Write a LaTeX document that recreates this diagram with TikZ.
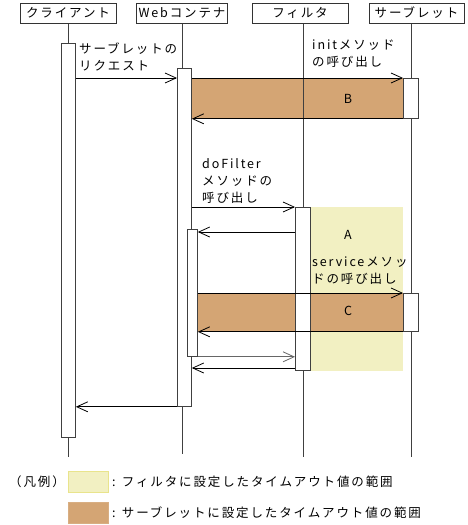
\documentclass[tikz,border=0pt]{standalone}
\usepackage{fontspec}
\setmainfont{Noto Sans CJK JP}[LetterSpace=15]
\usetikzlibrary{arrows.meta}
\definecolor{svbrown}{HTML}{D4A574}
\definecolor{flyellow}{HTML}{F2F0C2}
\newcommand\fsz{\fontsize{12.5}{17}\selectfont}
\pgfdeclarelayer{bg}
\pgfsetlayers{bg,main}
\begin{document}
\begin{tikzpicture}[x=1pt,y=-1pt,
  every node/.style={font=\fsz},
  life/.style={draw=black!75, line width=0.8pt},
  act/.style={draw=black!75, fill=white, line width=0.8pt, anchor=north west, inner sep=0pt},
  hdr/.style={draw=black!80, line width=0.8pt, inner sep=0pt, minimum height=20pt},
  msg/.style={draw=black, line width=0.8pt, -{Straight Barb[length=11pt,width=10pt]}},
  lbl/.style={anchor=north west, inner sep=0pt, align=left},
]
\useasboundingbox (0,0) rectangle (467,525);
% headers
\node[hdr, minimum width=96pt] (hc) at (68,13) {クライアント};
\node[hdr, minimum width=91pt] (hw) at (182,13) {Webコンテナ};
\node[hdr, minimum width=96pt] (hf) at (300,13) {フィルタ};
\node[hdr, minimum width=95pt] (hs) at (416.5,13) {サーブレット};
% lifeline ends
\coordinate (cend) at (68,457);
\coordinate (wend) at (182,454);
\coordinate (ftop) at (303,23);
\coordinate (fend) at (303,457);
\coordinate (stop) at (411,23);
\coordinate (send) at (411,457);
% activations
\node[act, minimum width=14pt, minimum height=394pt] (ca) at (61,43) {};
\node[act, minimum width=14pt, minimum height=338pt] (wa) at (177,68) {};
\node[act, minimum width=10pt, minimum height=127pt] (wn) at (187,229) {};
\node[act, minimum width=15pt, minimum height=163pt] (fa) at (295,207) {};
\node[act, minimum width=15pt, minimum height=40pt] (s1) at (403,78) {};
\node[act, minimum width=15pt, minimum height=38pt] (s2) at (403,293) {};
\begin{pgfonlayer}{bg}
  \fill[flyellow] (fa.north east) rectangle (s2.west |- fa.south);
  \fill[svbrown] (wa.east |- s1.north) rectangle (s1.south west);
  \fill[svbrown] (wn.east |- s2.north) rectangle (s2.south west);
  \draw[life] (hc.south) -- (cend);
  \draw[life] (hw.south) -- (wend);
  \draw[life] (ftop) -- (fend);
  \draw[life] (stop) -- (send);
\end{pgfonlayer}
% messages
\draw[msg] (ca.east |- s1.north) -- (wa.west |- s1.north);
\draw[msg] (wa.east |- s1.north) -- (s1.north west);
\draw[msg] (s1.south west) -- (wa.east |- s1.south);
\draw[msg] (wa.east |- fa.north) -- (fa.north west);
\draw[msg] (fa.west |- 0,232) -- (wn.east |- 0,232);
\draw[msg] (wn.east |- s2.north) -- (s2.north west);
\draw[msg] (s2.south west) -- (wn.east |- s2.south);
\draw[msg, draw=black!60] (wn.south east) -- (fa.west |- wn.south);
\draw[msg] (fa.west |- 0,368) -- (wa.east |- 0,368);
\draw[msg] (wa.south west) -- (ca.east |- wa.south);
% labels
\node[lbl] (l1) at (79,42.5) {サーブレットの\\リクエスト};
\node[lbl] (l2) at (312,39.5) {initメソッド\\の呼び出し};
\node[lbl] (l3) at (202,158.5) {doFilter\\メソッドの\\呼び出し};
\node[lbl] (l4) at (312,257) {serviceメソッ\\ドの呼び出し};
\node (la) at (348,235) {A};
\node (lb) at (348,99) {B};
\node (lc) at (348,311) {C};
% legend
\node[anchor=west, inner sep=0pt] (lg) at (9,482) {（凡例）};
\node[draw=yellow!50!olive!40, fill=flyellow, anchor=north west, minimum width=40pt, minimum height=21pt, inner sep=0pt] (sw1) at (68,471) {};
\node[draw=svbrown!90, fill=svbrown, anchor=north west, minimum width=40pt, minimum height=21pt, inner sep=0pt] (sw2) at (68,502) {};
\node[anchor=west, inner sep=0pt] (t1) at (112,482) {: フィルタに設定したタイムアウト値の範囲};
\node[anchor=west, inner sep=0pt] (t2) at (112,513) {: サーブレットに設定したタイムアウト値の範囲};
\end{tikzpicture}
\end{document}
